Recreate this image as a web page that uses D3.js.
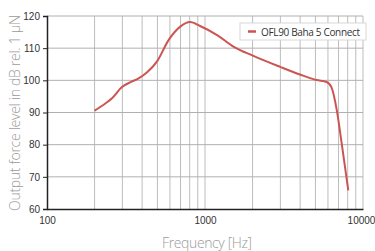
<!DOCTYPE html>
<html>
<head>
<meta charset="utf-8">
<script src="https://cdn.jsdelivr.net/npm/d3@7"></script>
<style>
  body { margin: 0; background: #fff; }
  svg { display: block; font-family: 'Open Sans', sans-serif; }
</style>
</head>
<body>
<div class="chart"></div>
<script>
const freqs = [200, 234, 258, 298, 340, 380, 430, 496, 588, 697, 806, 931, 1200, 1513, 2024, 2985, 3993, 5090, 5890, 6320, 6820, 7330, 8070];
const levels = [90.6, 92.8, 94.4, 97.9, 99.5, 100.6, 102.5, 105.8, 112.5, 116.7, 118.1, 116.9, 114, 110.5, 107.6, 104.2, 101.8, 100.1, 99.5, 97.8, 90.8, 80.4, 65.8];
const yTicks = [60, 70, 80, 90, 100, 110, 120];
const xLabels = [100, 1000, 10000];
const seriesName = 'OFL90 Baha 5 Connect';

const width = 375;
const height = 251;
const margin = { top: 16, right: 12, bottom: 42, left: 47 };

const svg = d3
  .select('.chart')
  .append('svg')
  .attr('width', width)
  .attr('height', height);

const x = d3.scaleLog().domain([100, 10000]).range([margin.left, width - margin.right]);
const y = d3.scaleLinear().domain([60, 120]).range([height - margin.bottom, margin.top]);

// minor log grid lines
const minor = [];
[100, 1000].forEach(d => {
  for (let k = 2; k <= 10; k++) minor.push(d * k);
});

svg
  .append('g')
  .selectAll('line')
  .data(minor)
  .enter()
  .append('line')
  .attr('x1', d => x(d))
  .attr('x2', d => x(d))
  .attr('y1', y(60))
  .attr('y2', y(120))
  .attr('stroke', '#bdbdbd')
  .attr('stroke-width', 1);

svg
  .append('g')
  .selectAll('line')
  .data(yTicks.slice(1))
  .enter()
  .append('line')
  .attr('x1', x(100))
  .attr('x2', x(10000))
  .attr('y1', d => y(d))
  .attr('y2', d => y(d))
  .attr('stroke', '#b0b0b0')
  .attr('stroke-width', 1);

// axes
const yAxis = d3.axisLeft(y).tickValues(yTicks).tickSize(4).tickPadding(3);
const xAxis = d3.axisBottom(x).tickValues(xLabels).tickFormat(d3.format('d')).tickSize(0).tickPadding(8);

const gy = svg
  .append('g')
  .attr('transform', 'translate(' + margin.left + ',0)')
  .call(yAxis);

const gx = svg
  .append('g')
  .attr('transform', 'translate(0,' + (height - margin.bottom) + ')')
  .call(xAxis);

[gx, gy].forEach(g => {
  g.select('.domain').attr('stroke', '#222').attr('stroke-width', 1.5);
  g.selectAll('.tick line').attr('stroke', '#222');
  g.selectAll('text').attr('fill', '#333').style('font-size', '10px');
});
gx.selectAll('.tick text').filter(d => d === 10000).attr('dx', -2);

const line = d3
  .line()
  .x((d, i) => x(freqs[i]))
  .y(d => y(d))
  .curve(d3.curveMonotoneX);

svg
  .append('path')
  .datum(levels)
  .attr('d', line)
  .attr('fill', 'none')
  .attr('stroke', '#cc5552')
  .attr('stroke-width', 2);

// legend
const legend = svg.append('g').attr('transform', 'translate(240,23)');
legend
  .append('rect')
  .attr('width', 126)
  .attr('height', 17)
  .attr('fill', '#fff')
  .attr('stroke', '#d8d8d8');
legend
  .append('line')
  .attr('x1', 8)
  .attr('x2', 16)
  .attr('y1', 8.5)
  .attr('y2', 8.5)
  .attr('stroke', '#cc5552')
  .attr('stroke-width', 2.5);
legend
  .append('text')
  .attr('x', 21)
  .attr('y', 12.5)
  .attr('fill', '#333')
  .style('font-size', '10px')
  .attr('textLength', 99)
  .text(seriesName);

// axis titles
svg
  .append('text')
  .attr('x', 207)
  .attr('y', 248)
  .attr('text-anchor', 'middle')
  .attr('fill', '#9a9a9a')
  .style('font-size', '14px')
  .style('font-weight', 300)
  .attr('textLength', 90)
  .text('Frequency [Hz]');

svg
  .append('text')
  .attr('transform', 'translate(20,113) rotate(-90)')
  .attr('text-anchor', 'middle')
  .attr('fill', '#9a9a9a')
  .style('font-size', '14px')
  .style('font-weight', 300)
  .attr('textLength', 196)
  .text('Output force level in dB rel. 1 µN');
</script>
</body>
</html>
